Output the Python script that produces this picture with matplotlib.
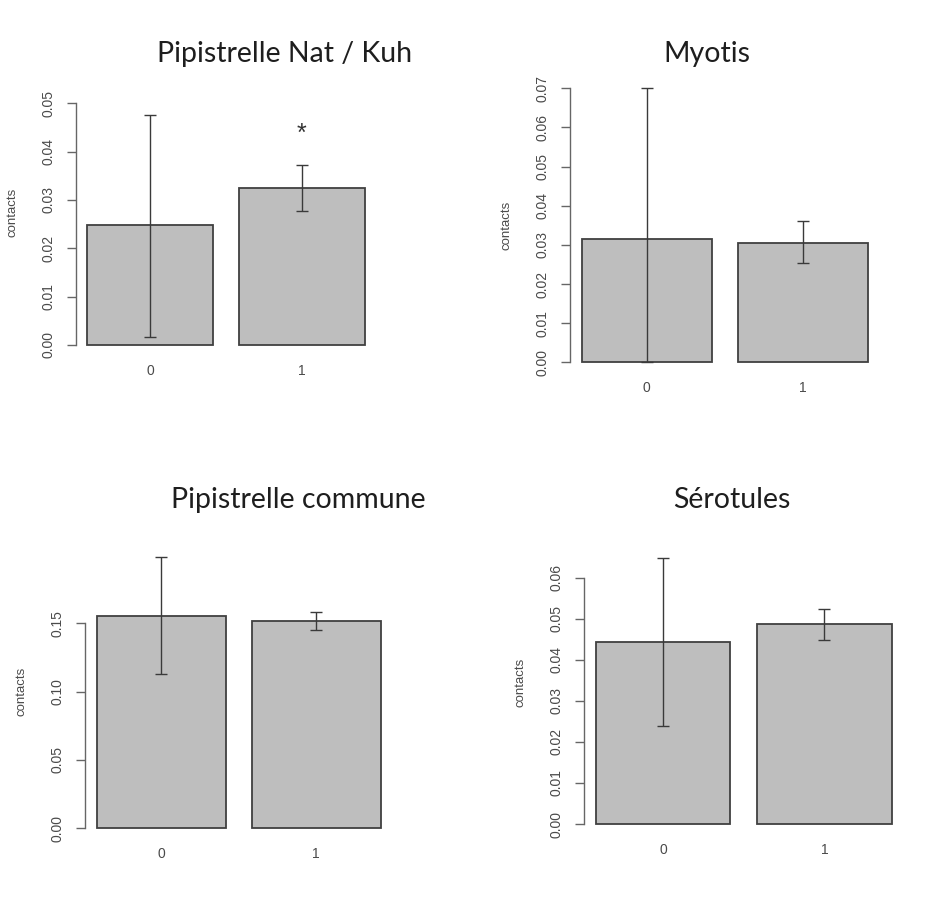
import matplotlib.pyplot as plt

# Four R-style barplots (site type 0 / 1), mean contacts with error bars
groups = ['0', '1']
bar_x = [0.7, 1.9]

titles = ['Pipistrelle Nat / Kuh', 'Myotis', 'Pipistrelle commune', 'Sérotules']

nat_mean = [0.0249, 0.0324]
nat_low = [0.0017, 0.0277]
nat_high = [0.0476, 0.0372]
nat_ticks = [0.00, 0.01, 0.02, 0.03, 0.04, 0.05]

myo_mean = [0.0315, 0.0306]
myo_low = [0.0000, 0.0254]
myo_high = [0.0700, 0.0361]
myo_ticks = [0.00, 0.01, 0.02, 0.03, 0.04, 0.05, 0.06, 0.07]

com_mean = [0.1556, 0.1514]
com_low = [0.1127, 0.1453]
com_high = [0.1983, 0.1585]
com_ticks = [0.00, 0.05, 0.10, 0.15]

ser_mean = [0.0444, 0.0486]
ser_low = [0.0239, 0.0448]
ser_high = [0.0647, 0.0523]
ser_ticks = [0.00, 0.01, 0.02, 0.03, 0.04, 0.05, 0.06]

star_value = 0.0451

W, H = 925, 901
fig = plt.figure(figsize=(W / 100, H / 100), dpi=100)
fig.patch.set_facecolor('white')

tick_font = ['Liberation Sans', 'DejaVu Sans']
title_font = ['Lato', 'DejaVu Sans']

# layout in pixels: axis line x, bar width, y of zero line, px per unit, ylim top, title centre
layout = [
    (75.6, 126.6, 345.0, 4834, 0.055, (285, 54)),
    (570.2, 130.3, 362.3, 3914, 0.070, (707, 54)),
    (85.3, 129.2, 828.3, 1366.7, 0.200, (298, 500)),
    (583.9, 134.5, 824.0, 4106, 0.069, (732, 500)),
]
series = [
    (nat_mean, nat_low, nat_high, nat_ticks),
    (myo_mean, myo_low, myo_high, myo_ticks),
    (com_mean, com_low, com_high, com_ticks),
    (ser_mean, ser_low, ser_high, ser_ticks),
]

for i, ((ax_x, bw, y0, ppu, ytop, tpos), (mean, low, high, ticks)) in enumerate(zip(layout, series)):
    ylo, yhi = -0.04 * ytop, 1.04 * ytop
    xlo, xhi = 0.112, 2.488
    bottom_px = y0 - ylo * ppu
    top_px = y0 - yhi * ppu
    ax = fig.add_axes([ax_x / W, 1 - bottom_px / H, (xhi - xlo) * bw / W, (bottom_px - top_px) / H])
    ax.set_xlim(xlo, xhi)
    ax.set_ylim(ylo, yhi)
    ax.patch.set_alpha(0)

    ax.bar(bar_x, mean, width=1.0, color='#bebebe', edgecolor='#404040', linewidth=1.3, zorder=2)
    yerr = [[m - l for m, l in zip(mean, low)], [h - m for m, h in zip(mean, high)]]
    ax.errorbar(bar_x, mean, yerr=yerr, fmt='none', ecolor='#3a3a3a', elinewidth=1.0,
                capsize=4.5, capthick=1.0, zorder=3, clip_on=False)

    for s in ['top', 'right', 'bottom']:
        ax.spines[s].set_visible(False)
    ax.spines['left'].set_bounds(ticks[0], ticks[-1])
    ax.spines['left'].set_color('#666666')
    ax.spines['left'].set_linewidth(1.0)

    ax.set_yticks(ticks)
    ax.set_yticklabels(['{:.2f}'.format(t) for t in ticks], rotation=90, ha='center', va='center',
                       family=tick_font, fontsize=10, color='#4a4a4a')
    ax.tick_params(axis='y', length=6.5, width=1.0, color='#666666', pad=13.3)

    ax.set_xticks(bar_x)
    ax.set_xticklabels(groups, va='center', family=tick_font, fontsize=10, color='#4a4a4a')
    ax.tick_params(axis='x', length=0, pad=10.8)

    ax.set_ylabel('contacts', family=tick_font, fontsize=9.5, color='#4a4a4a')
    ax.yaxis.set_label_coords(-57.5 / ((xhi - xlo) * bw), 0.5)

    fig.text(tpos[0] / W, 1 - tpos[1] / H, titles[i], ha='center', va='center',
             family=title_font, fontsize=20.5, color='#1e1e1e')

    if i == 0:
        ax.annotate('*', xy=(bar_x[1], star_value), xytext=(0, -5), textcoords='offset points',
                    ha='center', va='center', family=tick_font, fontsize=18, color='#333333')

fig.savefig('out.png', dpi=100, facecolor='white')
